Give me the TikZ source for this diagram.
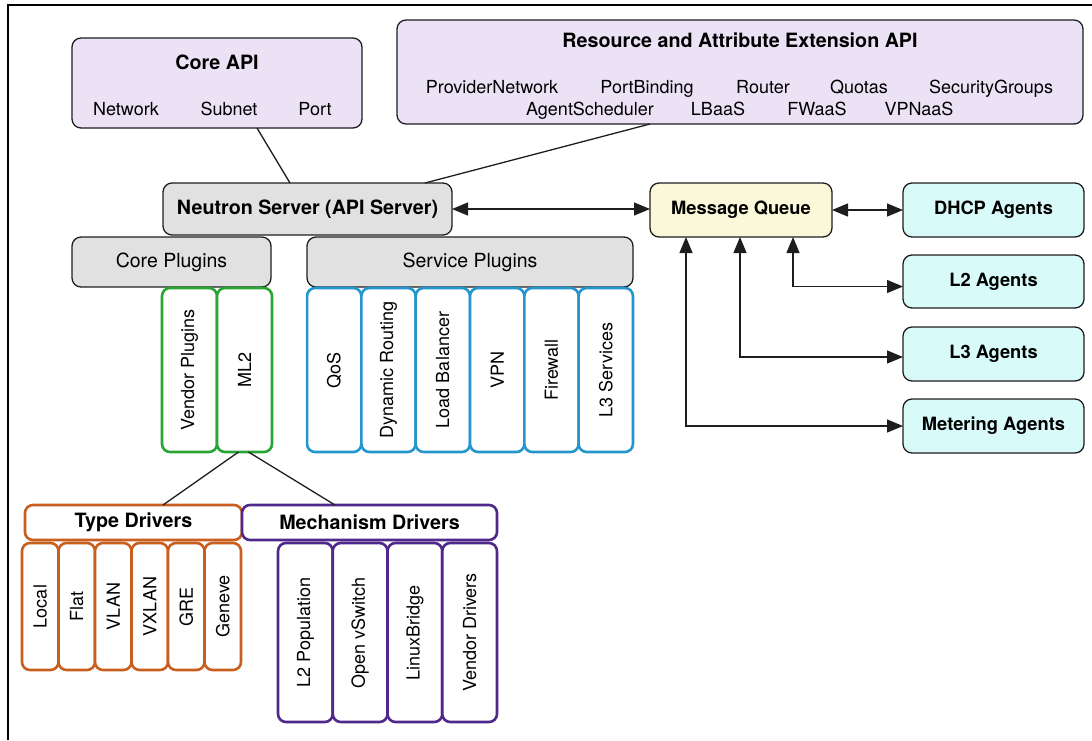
\documentclass[tikz,border=0pt]{standalone}
\usepackage{fontspec}
\setmainfont{TeX Gyre Heros}
\usetikzlibrary{arrows.meta,calc}
\definecolor{edgec}{RGB}{30,30,30}
\definecolor{lavc}{RGB}{236,226,246}
\definecolor{grayc}{RGB}{225,225,225}
\definecolor{yelc}{RGB}{250,248,216}
\definecolor{cyanc}{RGB}{216,250,248}
\definecolor{grnc}{RGB}{40,165,50}
\definecolor{bluec}{RGB}{35,150,205}
\definecolor{orgc}{RGB}{200,95,30}
\definecolor{purc}{RGB}{80,40,140}
\newcommand\fnReg{\fontsize{18}{21}\selectfont}
\newcommand\fnBig{\fontsize{19.5}{23}\selectfont}
\newcommand\fnBold{\bfseries\fontsize{18.3}{22}\selectfont}
\newcommand\fnTitle{\bfseries\fontsize{19.7}{23}\selectfont}
\begin{document}
\begin{tikzpicture}[x=1pt,y=-1pt,
  box/.style={draw=edgec, line width=1.3pt, rounded corners=9pt, inner sep=0pt, outer sep=0pt},
  lavbox/.style={box, fill=lavc},
  graybox/.style={box, fill=grayc},
  yelbox/.style={box, fill=yelc},
  cyanbox/.style={box, fill=cyanc},
  colbox/.style={line width=2.6pt, rounded corners=8pt, fill=white, inner sep=0pt, outer sep=0pt},
  grnbox/.style={colbox, draw=grnc},
  bluebox/.style={colbox, draw=bluec},
  orgbox/.style={colbox, draw=orgc},
  purbox/.style={colbox, draw=purc},
  txt/.style={inner sep=0pt, text height=13pt, text depth=0pt, font=\fnReg},
  ttl/.style={inner sep=0pt, text height=14pt, text depth=0pt, font=\fnTitle},
  conn/.style={line width=1.3pt, draw=edgec},
  biarrow/.style={conn, {Triangle[length=16pt,width=13pt]}-{Triangle[length=16pt,width=13pt]}},
]
\useasboundingbox (0,0) rectangle (1092,740);
\draw[line width=2pt, black] (8,740) -- (8,5) -- (1092,5);

% APIs
\node[lavbox, minimum width=290pt, minimum height=90pt] (core) at (217,83) {};
\node[ttl] (coret) at (217,62) {Core API};
\node[txt] (cnet) at (126,109) {Network};
\node[txt] (csub) at (229,109) {Subnet};
\node[txt] (cport) at (315,109) {Port};

\node[lavbox, minimum width=686pt, minimum height=104pt] (res) at (740,72) {};
\node[ttl] (rest) at (740,40) {Resource and Attribute Extension API};
\node[txt] (r1) at (492,87) {ProviderNetwork};
\node[txt] (r2) at (647,87) {PortBinding};
\node[txt] (r3) at (763,87) {Router};
\node[txt] (r4) at (859,87) {Quotas};
\node[txt] (r5) at (991,87) {SecurityGroups};
\node[txt] (r6) at (590,109) {AgentScheduler};
\node[txt] (r7) at (718,109) {LBaaS};
\node[txt] (r8) at (817,109) {FWaaS};
\node[txt] (r9) at (919,109) {VPNaaS};

% server and plugins
\node[graybox, minimum width=289pt, minimum height=52pt, font=\fnTitle] (neutron) at (307.5,209) {Neutron Server (API Server)};
\node[graybox, minimum width=199pt, minimum height=50pt, font=\fnBig] (corep) at (171.5,262) {Core Plugins};
\node[graybox, minimum width=326pt, minimum height=50pt, font=\fnBig] (servp) at (470,262) {Service Plugins};

\node[grnbox, minimum width=55pt, minimum height=164pt, font=\fnReg] (vendp) at (189.5,370) {\rotatebox{90}{Vendor Plugins}};
\node[grnbox, minimum width=55pt, minimum height=164pt, font=\fnReg] (ml2) at (244.5,370) {\rotatebox{90}{ML2}};

\node[bluebox, minimum width=54.3pt, minimum height=164pt, font=\fnReg] (qos) at (334.2,370) {\rotatebox{90}{QoS}};
\node[bluebox, minimum width=54.3pt, minimum height=164pt, font=\fnReg] (dyn) at (388.5,370) {\rotatebox{90}{Dynamic Routing}};
\node[bluebox, minimum width=54.3pt, minimum height=164pt, font=\fnReg] (lb) at (442.8,370) {\rotatebox{90}{Load Balancer}};
\node[bluebox, minimum width=54.3pt, minimum height=164pt, font=\fnReg] (vpn) at (497.2,370) {\rotatebox{90}{VPN}};
\node[bluebox, minimum width=54.3pt, minimum height=164pt, font=\fnReg] (fw) at (551.5,370) {\rotatebox{90}{Firewall}};
\node[bluebox, minimum width=54.3pt, minimum height=164pt, font=\fnReg] (l3s) at (605.8,370) {\rotatebox{90}{L3 Services}};

% message queue and agents
\node[yelbox, minimum width=182pt, minimum height=54pt, font=\fnBold] (mq) at (741,210) {Message Queue};
\node[cyanbox, minimum width=181pt, minimum height=54pt, font=\fnBold] (dhcp) at (993.5,210) {DHCP Agents};
\node[cyanbox, minimum width=181pt, minimum height=53pt, font=\fnBold] (l2) at (993.5,281.5) {L2 Agents};
\node[cyanbox, minimum width=181pt, minimum height=54pt, font=\fnBold] (l3) at (993.5,354) {L3 Agents};
\node[cyanbox, minimum width=181pt, minimum height=54pt, font=\fnBold] (met) at (993.5,426) {Metering Agents};

% drivers
\node[orgbox, minimum width=217pt, minimum height=35pt, font=\fnTitle] (typeh) at (133.5,522.5) {Type Drivers};
\node[purbox, minimum width=255pt, minimum height=35pt, font=\fnTitle] (mechh) at (369.5,522.5) {Mechanism Drivers};

\node[orgbox, minimum width=36.5pt, minimum height=127pt, font=\fnReg] (tlocal) at (40.25,606.5) {\rotatebox{90}{Local}};
\node[orgbox, minimum width=36.5pt, minimum height=127pt, font=\fnReg] (tflat) at (76.75,606.5) {\rotatebox{90}{Flat}};
\node[orgbox, minimum width=36.5pt, minimum height=127pt, font=\fnReg] (tvlan) at (113.25,606.5) {\rotatebox{90}{VLAN}};
\node[orgbox, minimum width=36.5pt, minimum height=127pt, font=\fnReg] (tvxlan) at (149.75,606.5) {\rotatebox{90}{VXLAN}};
\node[orgbox, minimum width=36.5pt, minimum height=127pt, font=\fnReg] (tgre) at (186.25,606.5) {\rotatebox{90}{GRE}};
\node[orgbox, minimum width=36.5pt, minimum height=127pt, font=\fnReg] (tgen) at (222.75,606.5) {\rotatebox{90}{Geneve}};

\node[purbox, minimum width=54.75pt, minimum height=179pt, font=\fnReg] (ml2pop) at (305.4,632.5) {\rotatebox{90}{L2 Population}};
\node[purbox, minimum width=54.75pt, minimum height=179pt, font=\fnReg] (ovs) at (360.1,632.5) {\rotatebox{90}{Open vSwitch}};
\node[purbox, minimum width=54.75pt, minimum height=179pt, font=\fnReg] (lbr) at (414.9,632.5) {\rotatebox{90}{LinuxBridge}};
\node[purbox, minimum width=54.75pt, minimum height=179pt, font=\fnReg] (vdrv) at (469.6,632.5) {\rotatebox{90}{Vendor Drivers}};

% connectors
\draw[conn] ([xshift=-6pt]ml2.south) -- ([xshift=29.5pt]typeh.north);
\draw[conn] ([xshift=4pt]ml2.south) -- ([xshift=-34.5pt]mechh.north);
\draw[conn] ([xshift=40pt]core.south) -- ([xshift=-17.5pt]neutron.north);
\draw[conn] ([xshift=-90pt]res.south) -- ([xshift=117.5pt]neutron.north);
\draw[biarrow] (neutron.east) -- (neutron.east -| mq.west);
\draw[biarrow] (mq.east) -- (dhcp.west);
\draw[biarrow] ([xshift=52pt]mq.south) |- ([yshift=-5pt]l2.west);
\draw[biarrow] ([xshift=-1pt]mq.south) |- ([yshift=-3pt]l3.west);
\draw[biarrow] ([xshift=-55pt]mq.south) |- (met.west);
\end{tikzpicture}
\end{document}
